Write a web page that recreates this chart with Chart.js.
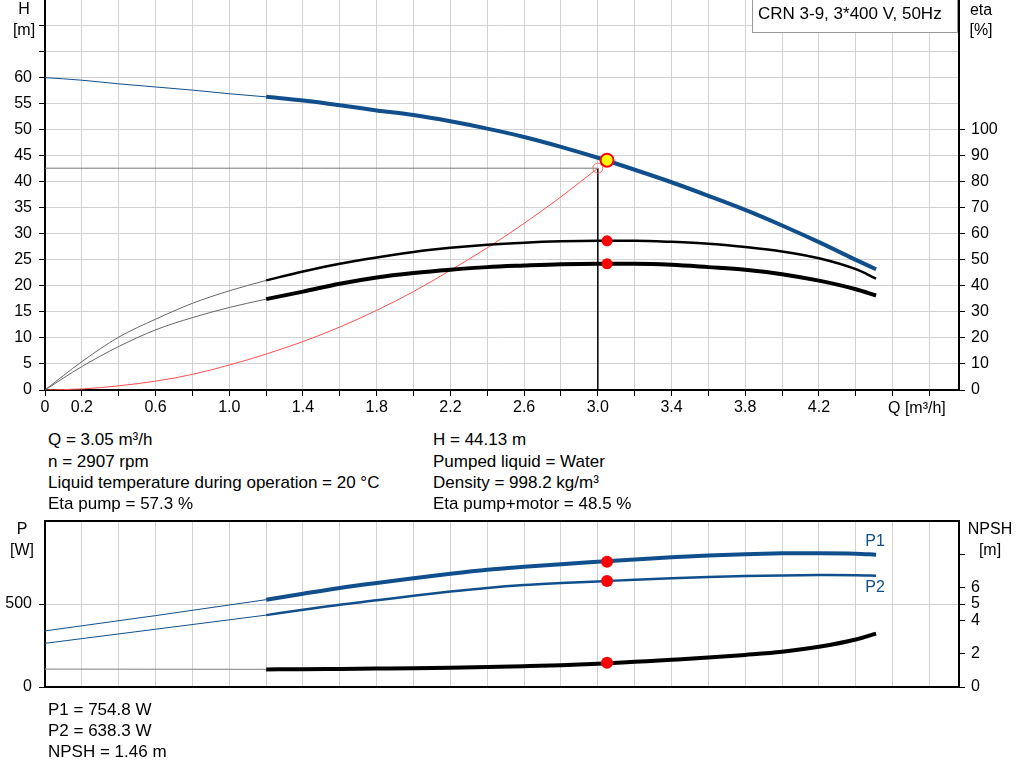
<!DOCTYPE html>
<html>
<head>
<meta charset="utf-8">
<script src="https://cdn.jsdelivr.net/npm/chart.js@4.4.0/dist/chart.umd.min.js"></script>
<style>
  body{margin:0;background:#fff;font-family:"Liberation Sans",Arial,sans-serif;color:#000;}
  #page{position:relative;width:1024px;height:781px;overflow:hidden;}
  #page canvas{position:absolute;left:0;}
  .t{position:absolute;font-size:17px;line-height:20px;white-space:nowrap;transform:translateY(-50%);}
  .c{transform:translate(-50%,-50%);font-size:16px;}
  #box{position:absolute;left:752px;top:-1px;width:206px;height:34px;border:1px solid #999;background:#fff;box-sizing:border-box;}
</style>
</head>
<body>
<div id="page">
  <canvas id="top" width="1024" height="430" style="top:0"></canvas>
  <canvas id="bot" width="1024" height="200" style="top:505px"></canvas>
  <div id="box"></div>
  <div id="labels"></div>
</div>
<script>
/* ------------ data ------------ */
const Q_LOW  = [0, 0.2, 0.4, 0.6, 0.8, 1.0, 1.2];
const Q_HIGH = [1.2, 1.4, 1.6, 1.8, 2.0, 2.2, 2.4, 2.6, 2.8, 3.0, 3.2, 3.4, 3.6, 3.8, 4.0, 4.2, 4.4, 4.51];

const H_LOW  = [60, 59.5, 58.8, 58.2, 57.6, 56.9, 56.3];
const H_HIGH = [56.3, 55.6, 54.7, 53.7, 52.8, 51.6, 50.2, 48.6, 46.7, 44.6, 42.3, 39.9, 37.3, 34.6, 31.6, 28.4, 25.0, 23.2];

const ETA_P_LOW  = [0, 10.9, 20.3, 27.2, 33.3, 38.1, 42.1];
const ETA_P_HIGH = [42.1, 45.5, 48.5, 50.9, 53.0, 54.6, 55.8, 56.6, 57.1, 57.3, 57.3, 56.9, 56.2, 54.9, 53.2, 50.6, 46.4, 42.8];
const ETA_T_LOW  = [0, 9.0, 16.7, 23.1, 27.8, 31.7, 34.9];
const ETA_T_HIGH = [34.9, 37.8, 40.8, 43.2, 44.9, 46.2, 47.2, 47.8, 48.3, 48.5, 48.5, 48.1, 47.2, 46.2, 44.5, 42.0, 38.7, 36.3];

const Q_SYS = [0, 0.2, 0.4, 0.6, 0.8, 1.0, 1.2, 1.4, 1.6, 1.8, 2.0, 2.2, 2.4, 2.6, 2.8, 3.0];
const H_SYS = [0, 0.2, 0.8, 1.7, 3.0, 4.8, 6.9, 9.3, 12.1, 15.3, 18.9, 23.0, 27.3, 32.0, 37.1, 42.6];

const Q_P_LOW = [0, 0.6, 1.2];
const P1_LOW  = [338, 430, 526];
const P2_LOW  = [263, 348, 433];
const P1_HIGH = [526, 562, 597, 627, 655, 682, 706, 724, 740, 754, 768, 781, 792, 800, 805, 806, 803, 797];
const P2_HIGH = [433, 465, 496, 522, 550, 575, 597, 614, 626, 636, 646, 655, 662, 668, 672, 674, 673, 670];

const Q_NPSH_LOW = [0, 1.2];
const NPSH_LOW   = [1.08, 1.06];
const NPSH_HIGH  = [1.06, 1.07, 1.09, 1.11, 1.13, 1.16, 1.2, 1.25, 1.31, 1.40, 1.52, 1.64, 1.77, 1.93, 2.12, 2.42, 2.86, 3.22];

// duty point
const DUTY = {q:3.05, h:44.13, etaPump:57.3, etaTotal:48.5, p1:754.8, p2:638.3, npsh:1.46};

// ticks
const X_TICKS    = [0,0.2,0.4,0.6,0.8,1.0,1.2,1.4,1.6,1.8,2.0,2.2,2.4,2.6,2.8,3.0,3.2,3.4,3.6,3.8,4.0,4.2,4.4,4.6,4.8];
const X_LABELS   = ['0','0.2','0.6','1.0','1.4','1.8','2.2','2.6','3.0','3.4','3.8','4.2'];
const H_TICKS    = [0,5,10,15,20,25,30,35,40,45,50,55,60,65,70,75];
const ETA_TICKS  = [0,10,20,30,40,50,60,70,80,90,100];
const P_TICKS    = [0,500,1000];
const NPSH_TICKS = [0,2,4,5,6,8];

/* ------------ helpers ------------ */
const pts = (xs, ys) => xs.map((x,i)=>({x, y:ys[i]}));
const BLUE = '#114f8c';
const GRID = '#d2d2d2';

function line(data, color, width, axis, order){
  return {data, borderColor:color, borderWidth:width, yAxisID:axis, pointRadius:0,
          cubicInterpolationMode:'monotone', fill:false, order:order||5};
}
function dot(data, axis, bg, border, r, bw){
  return {data, yAxisID:axis, showLine:false, pointRadius:r, pointBackgroundColor:bg,
          pointBorderColor:border, pointBorderWidth:bw, order:0};
}
const setTicks = list => s => { s.ticks = list.map(v=>({value:v})); };
const fitW = w => s => { s.width = w; s.paddingTop = 0; };
const fmtX = v => { const r = Math.round(v*10)/10; const t = r===0 ? '0' : r.toFixed(1);
                    return X_LABELS.includes(t) ? t : ''; };

Chart.defaults.font.family = '"Liberation Sans", Arial, sans-serif';
Chart.defaults.font.size = 16;
Chart.defaults.color = '#000';

const commonOpts = {
  responsive:false, animation:false, events:[],
  plugins:{legend:{display:false}, tooltip:{enabled:false}},
};

/* ------------ top chart: H / eta ------------ */
const sysEnd = {q:Q_SYS[Q_SYS.length-1], h:H_SYS[H_SYS.length-1]};
function topConfig(){
  return {
    type:'line',
    data:{datasets:[
      dot([{x:DUTY.q, y:DUTY.h}], 'yH', '#ffff00', '#ff0000', 6.5, 2),
      dot([{x:DUTY.q, y:DUTY.etaPump},{x:DUTY.q, y:DUTY.etaTotal}], 'yE', '#ff0000', '#ff0000', 5.5, 0),
      dot([{x:sysEnd.q, y:sysEnd.h}], 'yH', 'rgba(255,255,255,0)', '#f07070', 5, 1),
      line(pts(Q_HIGH, H_HIGH), BLUE, 4, 'yH', 1),
      line(pts(Q_LOW, H_LOW), BLUE, 1, 'yH', 2),
      line(pts(Q_HIGH, ETA_P_HIGH), '#000', 2.5, 'yE', 2),
      line(pts(Q_LOW, ETA_P_LOW), '#666', 1, 'yE', 3),
      line(pts(Q_HIGH, ETA_T_HIGH), '#000', 4, 'yE', 2),
      line(pts(Q_LOW, ETA_T_LOW), '#666', 1, 'yE', 3),
      line(pts(Q_SYS, H_SYS), '#ff5050', 1, 'yH', 4),
      line([{x:sysEnd.q, y:0},{x:sysEnd.q, y:sysEnd.h}], '#000', 1.5, 'yH', 4),
      line([{x:0, y:sysEnd.h},{x:sysEnd.q, y:sysEnd.h}], '#777', 1, 'yH', 6),
    ]},
    options:{...commonOpts,
      layout:{padding:0},
      scales:{
        x:{type:'linear', min:0, max:4.96, afterBuildTicks:setTicks(X_TICKS),
           afterFit:s=>{s.height=40;},
           grid:{color:GRID, tickColor:'#000', tickLength:6},
           border:{color:'#000', width:2},
           ticks:{autoSkip:false, maxRotation:0, padding:2, callback:fmtX}},
        yH:{position:'left', min:0, max:75, afterBuildTicks:setTicks(H_TICKS),
            afterFit:fitW(45),
            grid:{color:GRID, tickColor:'#000', tickLength:6},
            border:{color:'#000', width:2},
            ticks:{autoSkip:false, padding:7, callback:v=> v<=60 ? String(v) : ''}},
        yE:{position:'right', min:0, max:150, afterBuildTicks:setTicks(ETA_TICKS),
            afterFit:fitW(65),
            grid:{drawOnChartArea:false, tickColor:'#000', tickLength:6},
            border:{color:'#000', width:2},
            ticks:{autoSkip:false, padding:6}}
      }
    }
  };
}
const topCanvas = document.getElementById('top');
let topChart = new Chart(topCanvas, topConfig());
// pull the plot area up to the page top if the library left a margin above it
const off = Math.round(topChart.chartArea.top);
if(off > 0){
  topChart.destroy();
  topCanvas.width = 1024; topCanvas.height = 430 + off;
  topCanvas.style.top = (-off) + 'px';
  topChart = new Chart(topCanvas, topConfig());
}

/* ------------ bottom chart: P / NPSH ------------ */
new Chart(document.getElementById('bot'), {
  type:'line',
  data:{datasets:[
    dot([{x:DUTY.q, y:DUTY.p1},{x:DUTY.q, y:DUTY.p2}], 'yP', '#ff0000', '#ff0000', 6, 0),
    dot([{x:DUTY.q, y:DUTY.npsh}], 'yN', '#ff0000', '#ff0000', 6, 0),
    line(pts(Q_HIGH, P1_HIGH), BLUE, 4, 'yP', 1),
    line(pts(Q_P_LOW, P1_LOW), BLUE, 1, 'yP', 2),
    line(pts(Q_HIGH, P2_HIGH), BLUE, 2.5, 'yP', 1),
    line(pts(Q_P_LOW, P2_LOW), BLUE, 1, 'yP', 2),
    line(pts(Q_HIGH, NPSH_HIGH), '#000', 4, 'yN', 1),
    line(pts(Q_NPSH_LOW, NPSH_LOW), '#999', 1.2, 'yN', 2),
  ]},
  options:{...commonOpts,
    layout:{padding:{top:16,left:0,right:0,bottom:0}},
    scales:{
      x:{type:'linear', min:0, max:4.96, afterBuildTicks:setTicks(X_TICKS),
         afterFit:s=>{s.height=18;},
         grid:{color:GRID, drawTicks:false},
         border:{color:'#000', width:2},
         ticks:{display:false}},
      yP:{position:'left', min:0, max:1000, afterBuildTicks:setTicks(P_TICKS),
          afterFit:fitW(45),
          grid:{color:c=> c.tick && c.tick.value===1000 ? '#000' : GRID,
                lineWidth:c=> c.tick && c.tick.value===1000 ? 2 : 1,
                tickColor:c=> c.tick && c.tick.value===1000 ? 'rgba(0,0,0,0)' : '#000', tickLength:6},
          border:{color:'#000', width:2},
          ticks:{autoSkip:false, padding:7, callback:v=> v===1000 ? '' : String(v)}},
      yN:{position:'right', min:0, max:10, afterBuildTicks:setTicks(NPSH_TICKS),
          afterFit:fitW(65),
          grid:{drawOnChartArea:false, tickColor:'#000', tickLength:6},
          border:{color:'#000', width:2},
          ticks:{autoSkip:false, padding:6, callback:v=> v===8 ? '' : String(v)}}
    }
  }
});

/* ------------ text ------------ */
const TEXTS = [
  ['H', 24, 9, 'c'], ['[m]', 24, 30, 'c'],
  ['eta', 981, 10, 'c'], ['[%]', 981, 30, 'c'],
  ['CRN 3-9, 3*400 V, 50Hz', 758, 14, ''],
  ['Q [m³/h]', 888, 408, 'q'],
  ['Q = 3.05 m³/h', 48, 440, ''], ['n = 2907 rpm', 48, 462, ''],
  ['Liquid temperature during operation = 20 °C', 48, 483, ''], ['Eta pump = 57.3 %', 48, 504, ''],
  ['H = 44.13 m', 433, 440, ''], ['Pumped liquid = Water', 433, 462, ''],
  ['Density = 998.2 kg/m³', 433, 483, ''], ['Eta pump+motor = 48.5 %', 433, 504, ''],
  ['P', 22, 529, 'c'], ['[W]', 22, 550, 'c'],
  ['NPSH', 990, 529, 'c'], ['[m]', 990, 550, 'c'],
  ['P1', 875, 541, 'c', BLUE], ['P2', 875, 587, 'c', BLUE],
  ['P1 = 754.8 W', 48, 710, ''], ['P2 = 638.3 W', 48, 731, ''], ['NPSH = 1.46 m', 48, 752, ''],
];
const holder = document.getElementById('labels');
TEXTS.forEach(([txt,x,y,cls,col])=>{
  const d=document.createElement('div');
  d.className='t '+cls; d.textContent=txt;
  d.style.left=x+'px'; d.style.top=y+'px';
  if(cls==='q') d.style.fontSize='16px';
  if(col) d.style.color=col;
  holder.appendChild(d);
});
</script>
</body>
</html>
